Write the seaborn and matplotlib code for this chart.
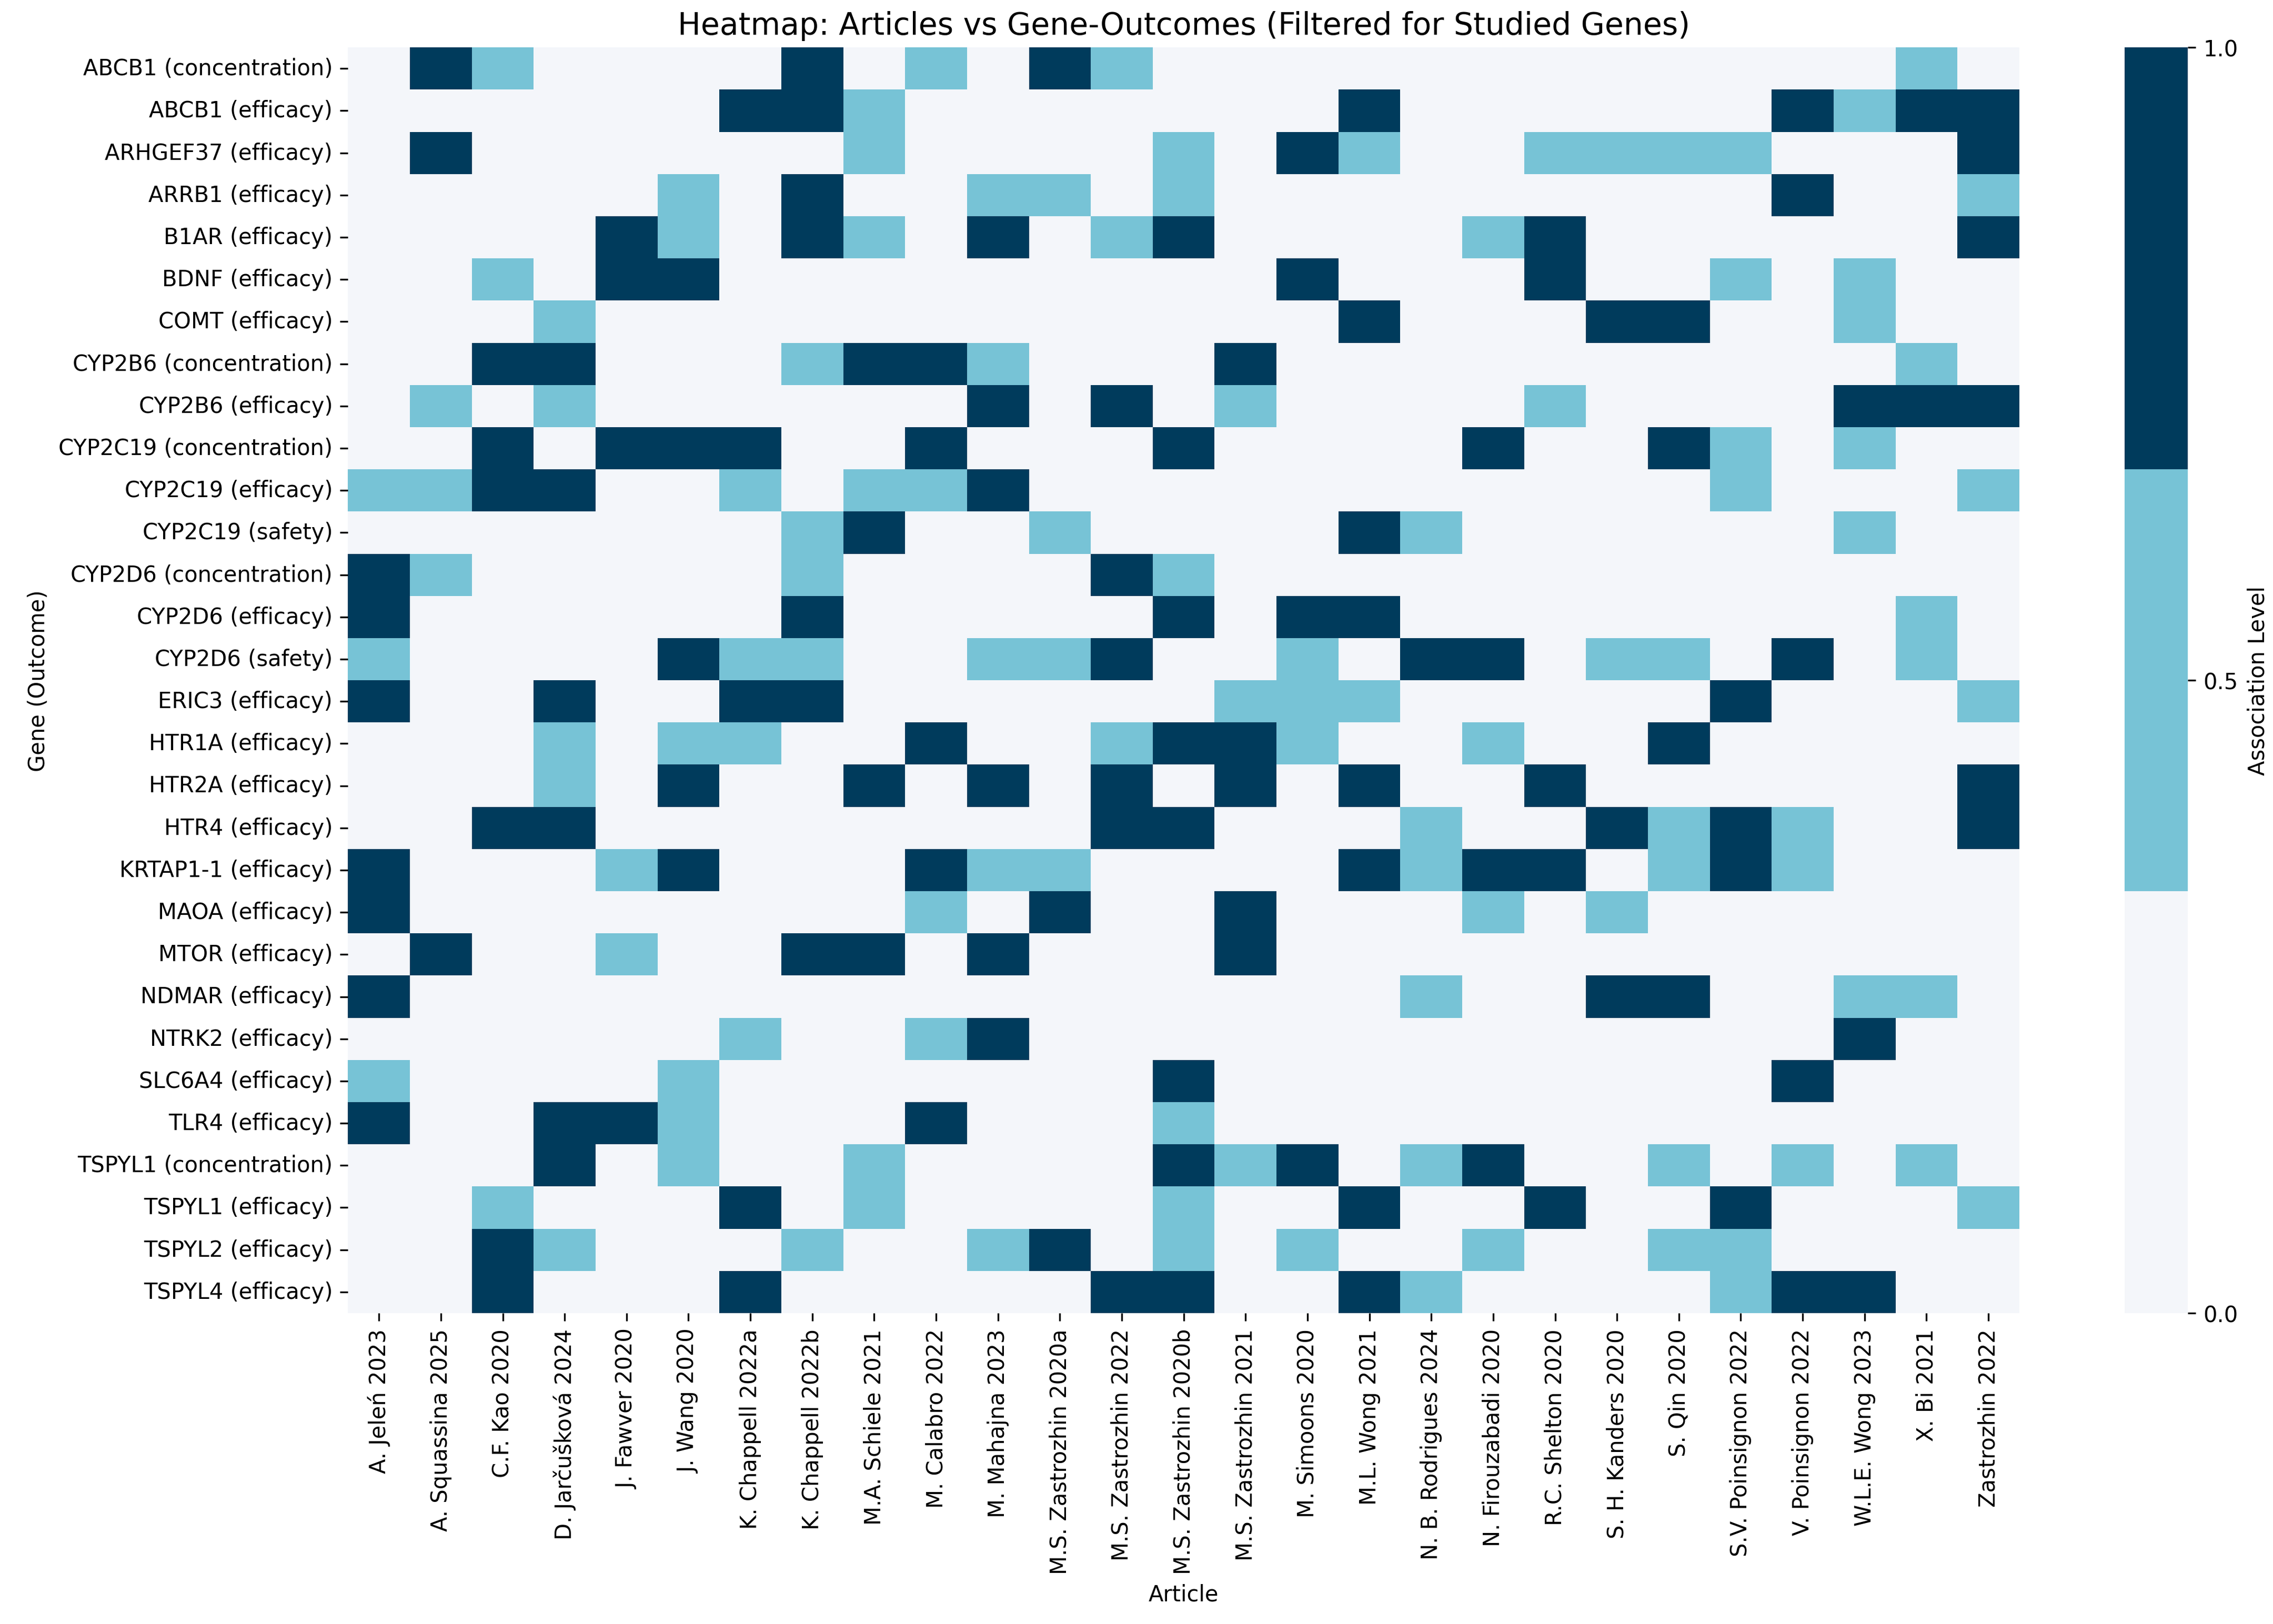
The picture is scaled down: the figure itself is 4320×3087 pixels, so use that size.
import matplotlib
matplotlib.use("Agg")
import matplotlib.pyplot as plt
from matplotlib.colors import ListedColormap
import seaborn as sns
import pandas as pd
import numpy as np

# Articles (x axis)
articles = [
    "A. Jeleń 2023", "A. Squassina 2025", "C.F. Kao 2020", "D. Jarčušková 2024",
    "J. Fawver 2020", "J. Wang 2020", "K. Chappell 2022a", "K. Chappell 2022b",
    "M.A. Schiele 2021", "M. Calabro 2022", "M. Mahajna 2023", "M.S. Zastrozhin 2020a",
    "M.S. Zastrozhin 2022", "M.S. Zastrozhin 2020b", "M.S. Zastrozhin 2021",
    "M. Simoons 2020", "M.L. Wong 2021", "N. B. Rodrigues 2024", "N. Firouzabadi 2020",
    "R.C. Shelton 2020", "S. H. Kanders 2020", "S. Qin 2020", "S.V. Poinsignon 2022",
    "V. Poinsignon 2022", "W.L.E. Wong 2023", "X. Bi 2021", "Zastrozhin 2022",
]

# Gene-outcome pairs (y axis)
gene_outcomes = [
    "ABCB1 (concentration)", "ABCB1 (efficacy)", "ARHGEF37 (efficacy)", "ARRB1 (efficacy)",
    "B1AR (efficacy)", "BDNF (efficacy)", "COMT (efficacy)", "CYP2B6 (concentration)",
    "CYP2B6 (efficacy)", "CYP2C19 (concentration)", "CYP2C19 (efficacy)", "CYP2C19 (safety)",
    "CYP2D6 (concentration)", "CYP2D6 (efficacy)", "CYP2D6 (safety)", "ERIC3 (efficacy)",
    "HTR1A (efficacy)", "HTR2A (efficacy)", "HTR4 (efficacy)", "KRTAP1-1 (efficacy)",
    "MAOA (efficacy)", "MTOR (efficacy)", "NDMAR (efficacy)", "NTRK2 (efficacy)",
    "SLC6A4 (efficacy)", "TLR4 (efficacy)", "TSPYL1 (concentration)", "TSPYL1 (efficacy)",
    "TSPYL2 (efficacy)", "TSPYL4 (efficacy)",
]

# Association level per gene-outcome, one value per article (0, 0.5 or 1)
levels = [
    [0, 1, .5, 0, 0, 0, 0, 1, 0, .5, 0, 1, .5, 0, 0, 0, 0, 0, 0, 0, 0, 0, 0, 0, 0, .5, 0],
    [0, 0, 0, 0, 0, 0, 1, 1, .5, 0, 0, 0, 0, 0, 0, 0, 1, 0, 0, 0, 0, 0, 0, 1, .5, 1, 1],
    [0, 1, 0, 0, 0, 0, 0, 0, .5, 0, 0, 0, 0, .5, 0, 1, .5, 0, 0, .5, .5, .5, .5, 0, 0, 0, 1],
    [0, 0, 0, 0, 0, .5, 0, 1, 0, 0, .5, .5, 0, .5, 0, 0, 0, 0, 0, 0, 0, 0, 0, 1, 0, 0, .5],
    [0, 0, 0, 0, 1, .5, 0, 1, .5, 0, 1, 0, .5, 1, 0, 0, 0, 0, .5, 1, 0, 0, 0, 0, 0, 0, 1],
    [0, 0, .5, 0, 1, 1, 0, 0, 0, 0, 0, 0, 0, 0, 0, 1, 0, 0, 0, 1, 0, 0, .5, 0, .5, 0, 0],
    [0, 0, 0, .5, 0, 0, 0, 0, 0, 0, 0, 0, 0, 0, 0, 0, 1, 0, 0, 0, 1, 1, 0, 0, .5, 0, 0],
    [0, 0, 1, 1, 0, 0, 0, .5, 1, 1, .5, 0, 0, 0, 1, 0, 0, 0, 0, 0, 0, 0, 0, 0, 0, .5, 0],
    [0, .5, 0, .5, 0, 0, 0, 0, 0, 0, 1, 0, 1, 0, .5, 0, 0, 0, 0, .5, 0, 0, 0, 0, 1, 1, 1],
    [0, 0, 1, 0, 1, 1, 1, 0, 0, 1, 0, 0, 0, 1, 0, 0, 0, 0, 1, 0, 0, 1, .5, 0, .5, 0, 0],
    [.5, .5, 1, 1, 0, 0, .5, 0, .5, .5, 1, 0, 0, 0, 0, 0, 0, 0, 0, 0, 0, 0, .5, 0, 0, 0, .5],
    [0, 0, 0, 0, 0, 0, 0, .5, 1, 0, 0, .5, 0, 0, 0, 0, 1, .5, 0, 0, 0, 0, 0, 0, .5, 0, 0],
    [1, .5, 0, 0, 0, 0, 0, .5, 0, 0, 0, 0, 1, .5, 0, 0, 0, 0, 0, 0, 0, 0, 0, 0, 0, 0, 0],
    [1, 0, 0, 0, 0, 0, 0, 1, 0, 0, 0, 0, 0, 1, 0, 1, 1, 0, 0, 0, 0, 0, 0, 0, 0, .5, 0],
    [.5, 0, 0, 0, 0, 1, .5, .5, 0, 0, .5, .5, 1, 0, 0, .5, 0, 1, 1, 0, .5, .5, 0, 1, 0, .5, 0],
    [1, 0, 0, 1, 0, 0, 1, 1, 0, 0, 0, 0, 0, 0, .5, .5, .5, 0, 0, 0, 0, 0, 1, 0, 0, 0, .5],
    [0, 0, 0, .5, 0, .5, .5, 0, 0, 1, 0, 0, .5, 1, 1, .5, 0, 0, .5, 0, 0, 1, 0, 0, 0, 0, 0],
    [0, 0, 0, .5, 0, 1, 0, 0, 1, 0, 1, 0, 1, 0, 1, 0, 1, 0, 0, 1, 0, 0, 0, 0, 0, 0, 1],
    [0, 0, 1, 1, 0, 0, 0, 0, 0, 0, 0, 0, 1, 1, 0, 0, 0, .5, 0, 0, 1, .5, 1, .5, 0, 0, 1],
    [1, 0, 0, 0, .5, 1, 0, 0, 0, 1, .5, .5, 0, 0, 0, 0, 1, .5, 1, 1, 0, .5, 1, .5, 0, 0, 0],
    [1, 0, 0, 0, 0, 0, 0, 0, 0, .5, 0, 1, 0, 0, 1, 0, 0, 0, .5, 0, .5, 0, 0, 0, 0, 0, 0],
    [0, 1, 0, 0, .5, 0, 0, 1, 1, 0, 1, 0, 0, 0, 1, 0, 0, 0, 0, 0, 0, 0, 0, 0, 0, 0, 0],
    [1, 0, 0, 0, 0, 0, 0, 0, 0, 0, 0, 0, 0, 0, 0, 0, 0, .5, 0, 0, 1, 1, 0, 0, .5, .5, 0],
    [0, 0, 0, 0, 0, 0, .5, 0, 0, .5, 1, 0, 0, 0, 0, 0, 0, 0, 0, 0, 0, 0, 0, 0, 1, 0, 0],
    [.5, 0, 0, 0, 0, .5, 0, 0, 0, 0, 0, 0, 0, 1, 0, 0, 0, 0, 0, 0, 0, 0, 0, 1, 0, 0, 0],
    [1, 0, 0, 1, 1, .5, 0, 0, 0, 1, 0, 0, 0, .5, 0, 0, 0, 0, 0, 0, 0, 0, 0, 0, 0, 0, 0],
    [0, 0, 0, 1, 0, .5, 0, 0, .5, 0, 0, 0, 0, 1, .5, 1, 0, .5, 1, 0, 0, .5, 0, .5, 0, .5, 0],
    [0, 0, .5, 0, 0, 0, 1, 0, .5, 0, 0, 0, 0, .5, 0, 0, 1, 0, 0, 1, 0, 0, 1, 0, 0, 0, .5],
    [0, 0, 1, .5, 0, 0, 0, .5, 0, 0, .5, 1, 0, .5, 0, .5, 0, 0, .5, 0, 0, .5, .5, 0, 0, 0, 0],
    [0, 0, 1, 0, 0, 0, 1, 0, 0, 0, 0, 0, 1, 1, 0, 0, 1, .5, 0, 0, 0, 0, .5, 1, 1, 0, 0],
]

level_colors = ["#f4f6fa", "#77c3d6", "#003b5c"]

df = pd.DataFrame(levels, index=gene_outcomes, columns=articles)

fig = plt.figure(figsize=(14.4, 10.293), dpi=300)
ax = fig.add_axes([0.1531, 0.1914, 0.7353, 0.7791])
cax = fig.add_axes([0.9347, 0.1914, 0.0278, 0.7791])

sns.heatmap(df, cmap=ListedColormap(level_colors), vmin=0, vmax=1, ax=ax, cbar_ax=cax,
            cbar_kws={"label": "Association Level", "ticks": [0, 0.5, 1]})

ax.set_title("Heatmap: Articles vs Gene-Outcomes (Filtered for Studied Genes)", fontsize=14)
ax.set_xlabel("Article")
ax.set_ylabel("Gene (Outcome)")
ax.set_xticks(np.arange(len(articles)) + 0.5)
ax.set_xticklabels(articles, rotation=90)
ax.set_yticks(np.arange(len(gene_outcomes)) + 0.5)
ax.set_yticklabels(gene_outcomes, rotation=0)
cax.set_yticklabels(["0.0", "0.5", "1.0"])

fig.savefig("out.png", dpi=300)
